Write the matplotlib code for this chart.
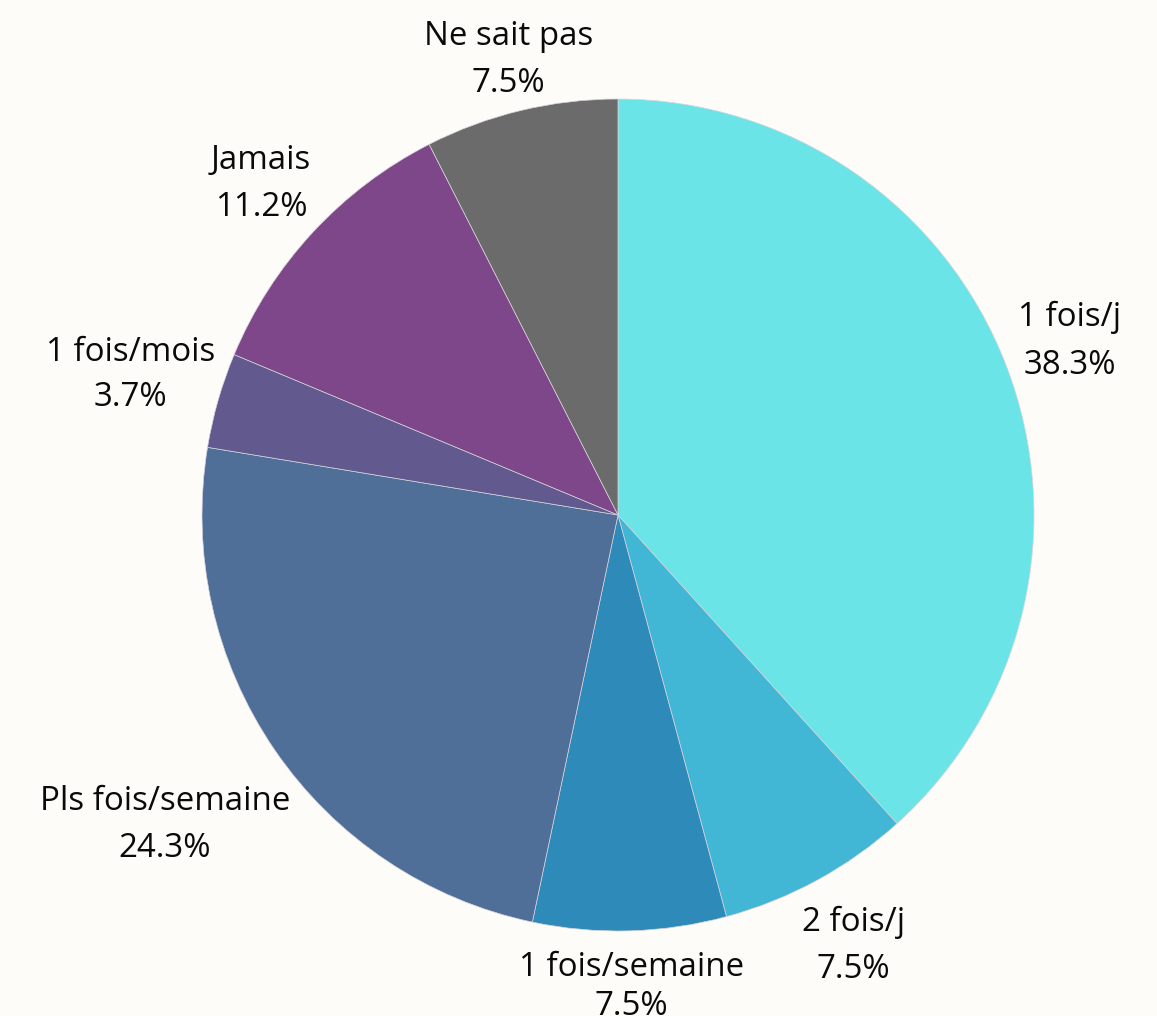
import numpy as np
import matplotlib.pyplot as plt

labels = ['1 fois/j', '2 fois/j', '1 fois/semaine', 'Pls fois/semaine',
          '1 fois/mois', 'Jamais', 'Ne sait pas']
values = [38.3, 7.5, 7.5, 24.3, 3.7, 11.2, 7.5]
colors = ['#6be4e8', '#42b6d5', '#2e8bb9', '#4f6e98', '#625a8e', '#7e4789', '#6b6b6b']

# distance of each outside label from the centre (in radii)
label_dist = [1.163, 1.18, 1.135, 1.32, 1.22, 1.17, 1.125]
# line spacing of each label (the last one sits against the figure edge)
label_spacing = [1.58, 1.58, 1.25, 1.58, 1.45, 1.58, 1.58]

plt.rcParams['font.family'] = ['Open Sans', 'DejaVu Sans']
bg = '#fdfcf8'

fig = plt.figure(figsize=(11.57, 10.16), dpi=100, facecolor=bg)
ax = fig.add_axes([0, 0, 1, 1])
ax.set_facecolor(bg)

wedges, _ = ax.pie(values, colors=colors, startangle=90, counterclock=False,
                   radius=1.0, wedgeprops=dict(edgecolor='#d8d4dc', linewidth=0.5))

for w, lab, val, d, ls in zip(wedges, labels, values, label_dist, label_spacing):
    mid = np.deg2rad((w.theta1 + w.theta2) / 2)
    ax.text(d * np.cos(mid), d * np.sin(mid), '{0}\n{1}%'.format(lab, val),
            ha='center', va='center', fontsize=23.8, linespacing=ls, color='#0a0a0a')

ax.set_xlim(-618 / 416, (1157 - 618) / 416)
ax.set_ylim(-(1016 - 515) / 416, 515 / 416)
ax.set_aspect('auto')
ax.axis('off')

fig.savefig('out.png', dpi=100, facecolor=bg)
